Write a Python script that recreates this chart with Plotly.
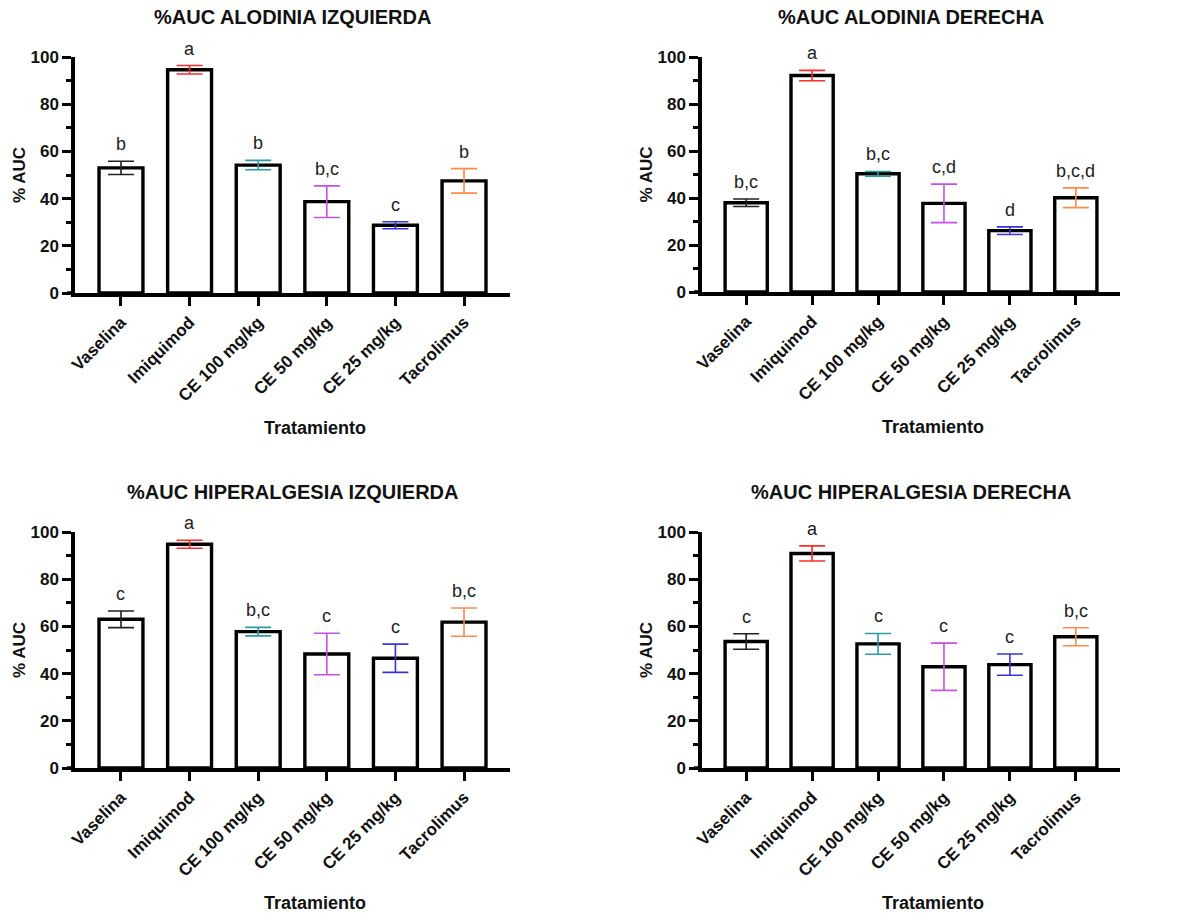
import plotly.graph_objects as go

categories = ["Vaselina", "Imiquimod", "CE 100 mg/kg", "CE 50 mg/kg", "CE 25 mg/kg", "Tacrolimus"]
err_colors = ["#222222", "#FF2A2A", "#2B9BA8", "#C84FE8", "#3535D8", "#FF8A45"]

panel_titles = ["%AUC ALODINIA IZQUIERDA", "%AUC ALODINIA DERECHA",
                "%AUC HIPERALGESIA IZQUIERDA", "%AUC HIPERALGESIA DERECHA"]

alo_izq_mean = [53.0, 94.6, 54.2, 38.7, 28.7, 47.5]
alo_izq_err = [2.8, 1.8, 2.0, 6.7, 1.5, 5.2]
alo_izq_letters = ["b", "a", "b", "b,c", "c", "b"]

alo_der_mean = [38.0, 92.1, 50.3, 37.7, 26.1, 40.1]
alo_der_err = [1.6, 2.2, 1.0, 8.2, 1.6, 4.2]
alo_der_letters = ["b,c", "a", "b,c", "c,d", "d", "b,c,d"]

hip_izq_mean = [63.0, 94.8, 57.8, 48.3, 46.5, 61.8]
hip_izq_err = [3.5, 1.7, 1.8, 8.8, 6.0, 6.0]
hip_izq_letters = ["c", "a", "b,c", "c", "c", "b,c"]

hip_der_mean = [53.6, 90.9, 52.6, 42.9, 43.8, 55.6]
hip_der_err = [3.3, 3.2, 4.4, 10.0, 4.5, 3.8]
hip_der_letters = ["c", "a", "c", "c", "c", "b,c"]

panels = [
    (alo_izq_mean, alo_izq_err, alo_izq_letters),
    (alo_der_mean, alo_der_err, alo_der_letters),
    (hip_izq_mean, hip_izq_err, hip_izq_letters),
    (hip_der_mean, hip_der_err, hip_der_letters),
]

W, H = 1178, 916
FONT = "Liberation Sans, Arial, sans-serif"

# plot areas in pixels: (x0, x1, ytop, ybottom)
areas = [(75, 510, 57, 293), (702, 1120, 57, 292), (75, 510, 532, 768), (702, 1120, 532, 768)]

fig = go.Figure()
layout = dict(
    template="none",
    width=W, height=H, margin=dict(l=0, r=0, t=0, b=0, pad=0, autoexpand=False),
    plot_bgcolor="white", paper_bgcolor="white", showlegend=False,
    font=dict(family=FONT, color="#111111"),
    annotations=[], shapes=[],
)

for i, ((mean, err, letters), (x0, x1, yt, yb)) in enumerate(zip(panels, areas)):
    n = i + 1
    xa = "x" if n == 1 else f"x{n}"
    ya = "y" if n == 1 else f"y{n}"
    xkey = "xaxis" if n == 1 else f"xaxis{n}"
    ykey = "yaxis" if n == 1 else f"yaxis{n}"
    fig.add_trace(go.Bar(
        x=categories, y=mean, width=0.64,
        marker=dict(color="white", line=dict(color="black", width=3.4)),
        xaxis=xa, yaxis=ya, hoverinfo="skip",
    ))
    for c, m, e, col in zip(categories, mean, err, err_colors):
        fig.add_trace(go.Scatter(
            x=[c], y=[m], mode="markers", marker=dict(size=1, opacity=0),
            error_y=dict(type="data", array=[e], color=col, thickness=1.6, width=13),
            xaxis=xa, yaxis=ya, hoverinfo="skip", cliponaxis=False,
        ))
    for c, m, e, lab in zip(categories, mean, err, letters):
        layout["annotations"].append(dict(
            x=c, y=m + e, xref=xa, yref=ya, text=lab, showarrow=False,
            yanchor="middle", yshift=17, font=dict(size=18, color="#222222", family=FONT),
        ))
    layout[xkey] = dict(
        domain=[x0 / W, x1 / W], anchor=ya, type="category", automargin=False,
        range=[-0.67, 5.67], showline=True, linecolor="black", linewidth=3.5,
        ticks="outside", ticklen=9, tickwidth=3, tickcolor="black",
        tickangle=-45, tickfont=dict(size=17, family=FONT, color="#111111", weight="bold"),
        showgrid=False, zeroline=False, fixedrange=True,
    )
    layout[ykey] = dict(
        domain=[1 - yb / H, 1 - yt / H], anchor=xa, automargin=False,
        range=[0, 100], tickvals=[0, 20, 40, 60, 80, 100],
        showline=True, linecolor="black", linewidth=3.5,
        ticks="outside", ticklen=9, tickwidth=3, tickcolor="black",
        minor=dict(tickvals=[10, 30, 50, 70, 90], ticks="outside", ticklen=5, tickwidth=3, tickcolor="black"),
        tickfont=dict(size=17, family=FONT, color="#111111", weight="bold"),
        showgrid=False, zeroline=False, fixedrange=True,
    )
    # x axis line extends slightly left of the y axis (Prism style)
    layout["shapes"].append(dict(
        type="line", xref="paper", yref="paper",
        x0=(x0 - 8) / W, x1=x0 / W, y0=1 - yb / H, y1=1 - yb / H,
        line=dict(color="black", width=3.5),
    ))
    cx = (x0 + x1) / 2
    # panel title
    layout["annotations"].append(dict(
        x=cx / W, y=1 - (yt - 40) / H, xref="paper", yref="paper",
        text=f"<b>{panel_titles[i]}</b>", showarrow=False,
        xanchor="center", yanchor="middle", font=dict(size=20, family=FONT, color="#111111"),
    ))
    # y axis title
    layout["annotations"].append(dict(
        x=(x0 - 56) / W, y=1 - (yt + yb) / 2 / H, xref="paper", yref="paper",
        text="<b>% AUC</b>", showarrow=False, textangle=-90,
        xanchor="center", yanchor="middle", font=dict(size=17, family=FONT, color="#111111"),
    ))
    # x axis title
    layout["annotations"].append(dict(
        x=(cx + 22) / W, y=1 - (yb + 135) / H, xref="paper", yref="paper",
        text="<b>Tratamiento</b>", showarrow=False,
        xanchor="center", yanchor="middle", font=dict(size=18, family=FONT, color="#111111"),
    ))

fig.update_layout(**layout)
fig.write_html("out.html")
